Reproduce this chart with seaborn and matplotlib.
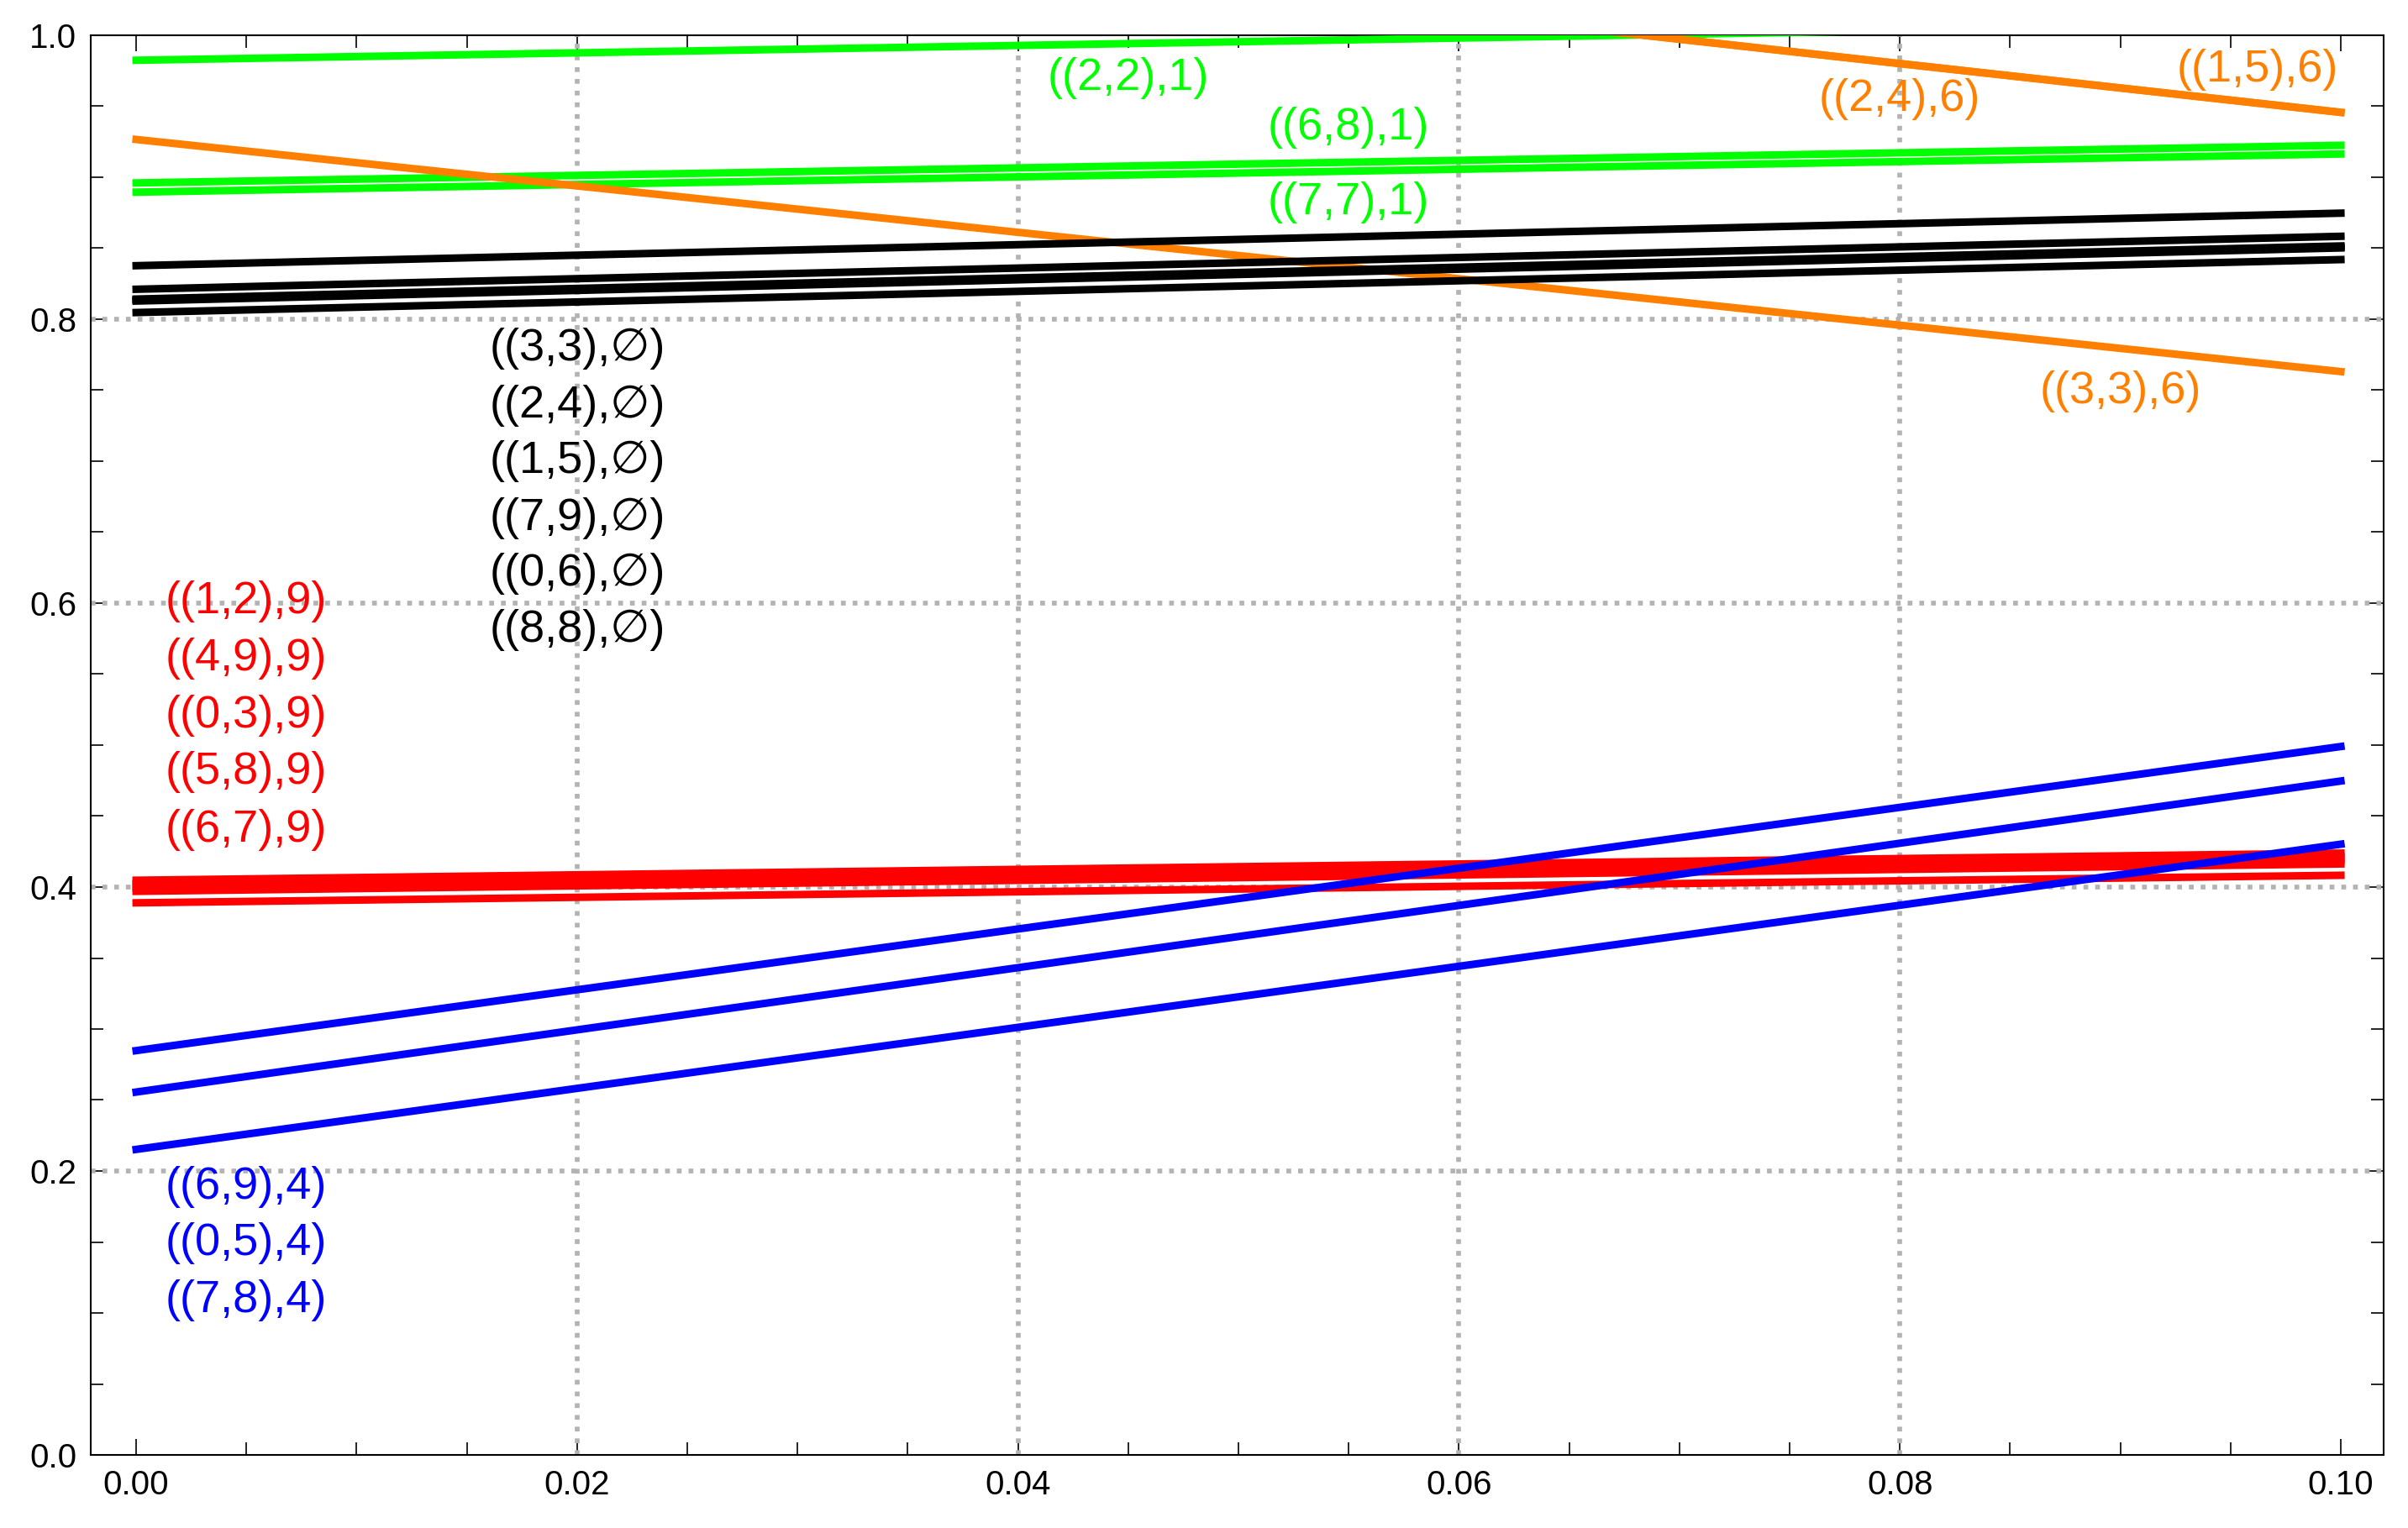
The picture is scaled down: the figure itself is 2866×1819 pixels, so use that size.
import matplotlib
matplotlib.use("Agg")
import matplotlib.pyplot as plt
import seaborn as sns
import pandas as pd
import numpy as np
from matplotlib.ticker import MultipleLocator, FixedLocator

# ---------------- data ----------------
x_ends = [0.0, 0.1]

green_names = ["((2,2),1)", "((6,8),1)", "((7,7),1)"]
green_vals = [[0.9824, 1.0085], [0.8960, 0.9225], [0.8895, 0.9164]]

orange_names = ["((1,5),6)", "((2,4),6)", "((3,3),6)"]
orange_vals = [[1.1175, 0.9457], [1.1175, 0.9457], [0.9266, 0.7631]]

black_names = ["((3,3),∅)", "((2,4),∅)", "((1,5),∅)", "((7,9),∅)", "((0,6),∅)", "((8,8),∅)"]
black_vals = [[0.8377, 0.8747], [0.8211, 0.8584], [0.8142, 0.8516],
              [0.8135, 0.8509], [0.8128, 0.8502], [0.8047, 0.8420]]

red_names = ["((1,2),9)", "((4,9),9)", "((0,3),9)", "((5,8),9)", "((6,7),9)"]
red_vals = [[0.4048, 0.4239], [0.4022, 0.4214], [0.3996, 0.4188],
            [0.3970, 0.4163], [0.3889, 0.4083]]

blue_names = ["((6,9),4)", "((0,5),4)", "((7,8),4)"]
blue_vals = [[0.2848, 0.4990], [0.2556, 0.4747], [0.2152, 0.4302]]

# label anchor positions (data coords)
green_lab_x = [0.0450, 0.0550, 0.0550]
green_lab_y = [0.970, 0.935, 0.882]
orange_lab_x = [0.0962, 0.0800, 0.0900]
orange_lab_y = [0.976, 0.955, 0.749]
black_lab_x = [0.0200] * 6
black_lab_y = [0.779, 0.739, 0.700, 0.660, 0.621, 0.581]
red_lab_x = [0.0050] * 5
red_lab_y = [0.601, 0.561, 0.521, 0.481, 0.440]
blue_lab_x = [0.0050] * 3
blue_lab_y = [0.189, 0.149, 0.109]

x_ticks = [0.00, 0.02, 0.04, 0.06, 0.08, 0.10]
x_tick_labels = ["0.00", "0.02", "0.04", "0.06", "0.08", "0.10"]
y_ticks = [0.0, 0.2, 0.4, 0.6, 0.8, 1.0]
y_tick_labels = ["0.0", "0.2", "0.4", "0.6", "0.8", "1.0"]
grid_x = [0.02, 0.04, 0.06, 0.08]
grid_y = [0.2, 0.4, 0.6, 0.8]

GREEN = "#00ff00"
ORANGE = "#ff8000"
BLACK = "#000000"
RED = "#ff0000"
BLUE = "#0000ff"

groups = [
    (green_names, green_vals, GREEN, green_lab_x, green_lab_y, "g"),
    (orange_names, orange_vals, ORANGE, orange_lab_x, orange_lab_y, "o"),
    (black_names, black_vals, BLACK, black_lab_x, black_lab_y, "k"),
    (red_names, red_vals, RED, red_lab_x, red_lab_y, "r"),
    (blue_names, blue_vals, BLUE, blue_lab_x, blue_lab_y, "b"),
]

rows = []
palette = {}
for names, vals, col, _, _, tag in groups:
    for nm, v in zip(names, vals):
        key = tag + ":" + nm
        palette[key] = col
        for xx, yy in zip(x_ends, v):
            rows.append({"x": xx, "y": yy, "line": key})
df = pd.DataFrame(rows)

# ---------------- figure ----------------
sns.set_theme(style="white")
plt.rcParams["font.family"] = ["Liberation Sans", "DejaVu Sans"]

DPI = 200
fig = plt.figure(figsize=(2866 / DPI, 1819 / DPI), dpi=DPI)
ax = fig.add_axes([108 / 2866, 1 - 1732 / 1819, (2837 - 108) / 2866, (1732 - 42) / 1819])

# grid (dotted gray)
for gx in grid_x:
    ax.axvline(gx, color="#b3b3b3", lw=2.05, linestyle=(0, (1, 1.45)),
               dash_capstyle="butt", zorder=1)
for gy in grid_y:
    ax.axhline(gy, color="#b3b3b3", lw=2.05, linestyle=(0, (1, 1.45)),
               dash_capstyle="butt", zorder=1)

sns.lineplot(data=df, x="x", y="y", hue="line", palette=palette, legend=False,
             linewidth=3.24, ax=ax, sort=False, estimator=None,
             solid_capstyle="projecting", zorder=3)

# labels
for names, vals, col, lx, ly, tag in groups:
    for nm, xx, yy in zip(names, lx, ly):
        ax.text(xx, yy, nm, color=col, fontsize=19.5, ha="center", va="center",
                family=["Liberation Sans", "DejaVu Sans"], zorder=5)

ax.set_xlim(-0.00206, 0.10194)
ax.set_ylim(0.0, 1.0)
ax.set_xlabel("")
ax.set_ylabel("")

ax.xaxis.set_major_locator(FixedLocator(x_ticks))
ax.xaxis.set_minor_locator(MultipleLocator(0.005))
ax.yaxis.set_major_locator(FixedLocator(y_ticks))
ax.yaxis.set_minor_locator(MultipleLocator(0.05))
ax.set_xticklabels(x_tick_labels)
ax.set_yticklabels(y_tick_labels)

ax.tick_params(which="major", direction="in", length=6.8, width=0.6, color="black",
               top=True, right=True, bottom=True, left=True,
               labelsize=14.5, pad=6.0, labelcolor="black")
ax.tick_params(which="minor", direction="in", length=5.4, width=0.6, color="black",
               top=True, right=True, bottom=True, left=True)
for lab in ax.get_xticklabels() + ax.get_yticklabels():
    lab.set_family(["Liberation Sans Narrow", "Liberation Sans", "DejaVu Sans"])

for sp in ax.spines.values():
    sp.set_visible(True)
    sp.set_color("black")
    sp.set_linewidth(0.75)

ax.set_facecolor("white")
fig.patch.set_facecolor("white")
ax.grid(False)

fig.savefig("out.png", dpi=DPI, facecolor="white")
